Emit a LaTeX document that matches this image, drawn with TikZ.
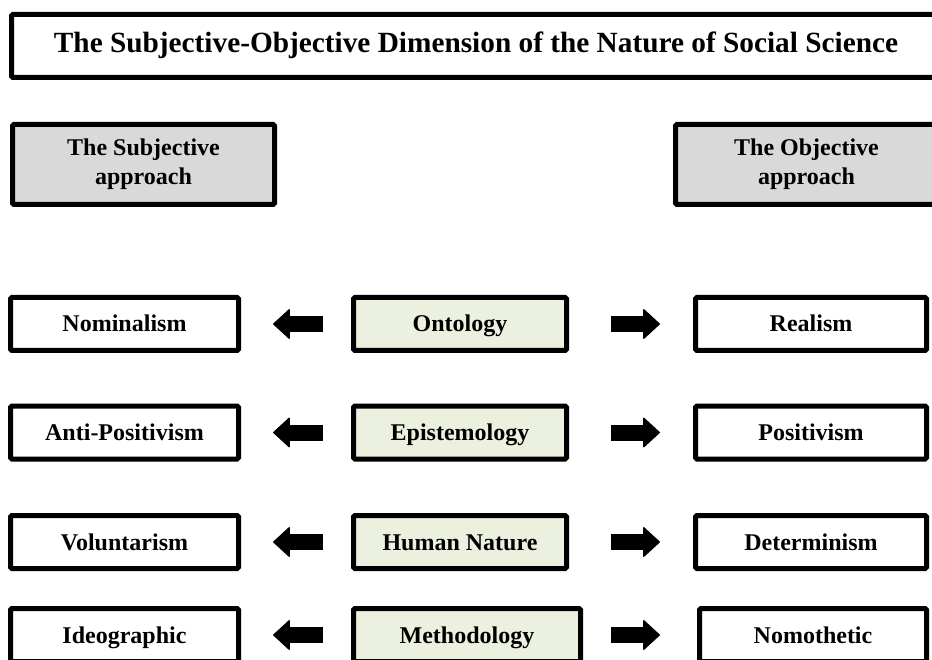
\documentclass[tikz,border=0pt]{standalone}
\usepackage{fontspec}
\setmainfont{Liberation Serif}
\usetikzlibrary{arrows.meta}
\definecolor{headclr}{HTML}{D9D9D9}
\definecolor{coreclr}{HTML}{EBF1DE}

\begin{document}
\begin{tikzpicture}[x=1pt,y=-1pt,
    box/.style={shape=rectangle,draw=black,line width=5pt,rounded corners=1.5pt,
      inner sep=0pt,align=center,minimum height=53pt,
      font=\fontsize{24}{29}\selectfont\bfseries},
    side/.style={box,fill=white,text height=16pt,text depth=0pt},
    core/.style={box,fill=coreclr,text height=16pt,text depth=0pt},
    fat/.style={line width=16pt,line join=round,
      -{Triangle[length=17pt,width=31pt,line width=1pt,round]}}]
    \useasboundingbox (0,0) rectangle (932,660);
    \node[box,fill=white,minimum width=929pt,minimum height=63pt,
      text height=20pt,text depth=6pt,
      font=\fontsize{29.3}{34}\selectfont\bfseries] (title) at (476,46)
      {The Subjective-Objective Dimension of the Nature of Social Science};
    \node[box,fill=headclr,minimum width=262pt,minimum height=80pt] (subj) at (143.5,164.5) {The Subjective\\approach};
    \node[box,fill=headclr,minimum width=262pt,minimum height=80pt] (obj) at (806.5,164.5) {The Objective\\approach};
    % ontology
    \node[side,minimum width=228pt] (nomin) at (124.5,324) {Nominalism};
    \node[core,minimum width=213pt] (onto) at (460,324) {Ontology};
    \node[side,minimum width=231pt] (real) at (811,324) {Realism};
    % epistemology
    \node[side,minimum width=228pt] (antipos) at (124.5,432.5) {Anti-Positivism};
    \node[core,minimum width=213pt] (episte) at (460,432.5) {Epistemology};
    \node[side,minimum width=231pt] (posit) at (811,432.5) {Positivism};
    % human nature
    \node[side,minimum width=228pt] (volun) at (124.5,542) {Voluntarism};
    \node[core,minimum width=213pt] (human) at (460,542) {Human Nature};
    \node[side,minimum width=231pt] (deter) at (811,542) {Determinism};
    % methodology
    \node[side,minimum width=228pt] (ideo) at (124.5,635) {Ideographic};
    \node[core,minimum width=227pt] (metho) at (467,635) {Methodology};
    \node[side,minimum width=227pt] (nomo) at (813,635) {Nomothetic};
    \path[fat](onto) edge[shorten <=28pt,shorten >=32pt] (nomin);
    \path[fat](onto) edge[shorten <=42pt,shorten >=33pt] (real);
    \path[fat](episte) edge[shorten <=28pt,shorten >=32pt] (antipos);
    \path[fat](episte) edge[shorten <=42pt,shorten >=33pt] (posit);
    \path[fat](human) edge[shorten <=28pt,shorten >=32pt] (volun);
    \path[fat](human) edge[shorten <=42pt,shorten >=33pt] (deter);
    \path[fat](metho) edge[shorten <=28pt,shorten >=32pt] (ideo);
    \path[fat](metho) edge[shorten <=28pt,shorten >=37pt] (nomo);
\end{tikzpicture}
\end{document}
